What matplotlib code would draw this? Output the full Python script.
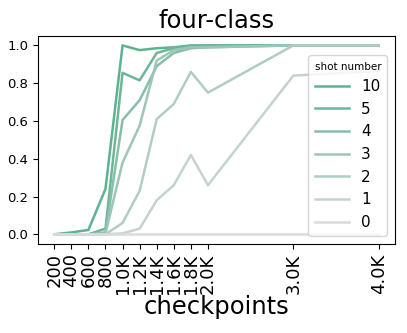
import matplotlib
matplotlib.use("Agg")
import matplotlib.pyplot as plt
import seaborn as sns

# checkpoints and accuracy per shot number
checkpoints = [200, 400, 600, 800, 1000, 1200, 1400, 1600, 1800, 2000, 3000, 4000]
tick_labels = ["200", "400", "600", "800", "1.0K", "1.2K", "1.4K", "1.6K", "1.8K", "2.0K", "3.0K", "4.0K"]

shots = ["10", "5", "4", "3", "2", "1", "0"]
acc_10 = [0.0, 0.01, 0.023, 0.24, 1.0, 0.975, 0.985, 0.99, 1.0, 1.0, 1.0, 1.0]
acc_5 = [0.0, 0.0, 0.0, 0.03, 0.855, 0.815, 0.96, 0.985, 0.995, 1.0, 1.0, 1.0]
acc_4 = [0.0, 0.0, 0.0, 0.01, 0.605, 0.71, 0.89, 0.96, 0.985, 0.99, 1.0, 1.0]
acc_3 = [0.0, 0.0, 0.0, 0.005, 0.38, 0.575, 0.92, 0.975, 0.99, 0.99, 1.0, 1.0]
acc_2 = [0.0, 0.0, 0.0, 0.0, 0.06, 0.23, 0.61, 0.69, 0.86, 0.75, 1.0, 1.0]
acc_1 = [0.0, 0.0, 0.0, 0.0, 0.005, 0.03, 0.18, 0.26, 0.42, 0.26, 0.84, 0.865]
acc_0 = [0.0] * 12
series = [acc_10, acc_5, acc_4, acc_3, acc_2, acc_1, acc_0]

colors = sns.blend_palette(["#5db28f", "#dadada"], 7)
colors[1] = sns.blend_palette(["#5db28f", "#dadada"], 9)[1]

fig = plt.figure(figsize=(4.07, 3.33), dpi=100)
ax = fig.add_axes([0.0934, 0.268, 0.877, 0.624])

for name, vals, c in zip(shots, series, colors):
    ax.plot(checkpoints, vals, color=c, linewidth=1.8, label=name)

ax.set_xticks(checkpoints)
ax.set_xticklabels(tick_labels, rotation=90, fontsize=13)
ax.tick_params(axis="y", labelsize=9.5)
ax.set_yticks([0.0, 0.2, 0.4, 0.6, 0.8, 1.0])
ax.set_title("four-class", fontsize=17.5)
ax.set_xlabel("checkpoints", fontsize=17.5, labelpad=1)

leg = ax.legend(title="shot number", loc="lower right", fontsize=11,
                title_fontsize=7.5, handlelength=2.2)

plt.savefig("out.png", dpi=100)
